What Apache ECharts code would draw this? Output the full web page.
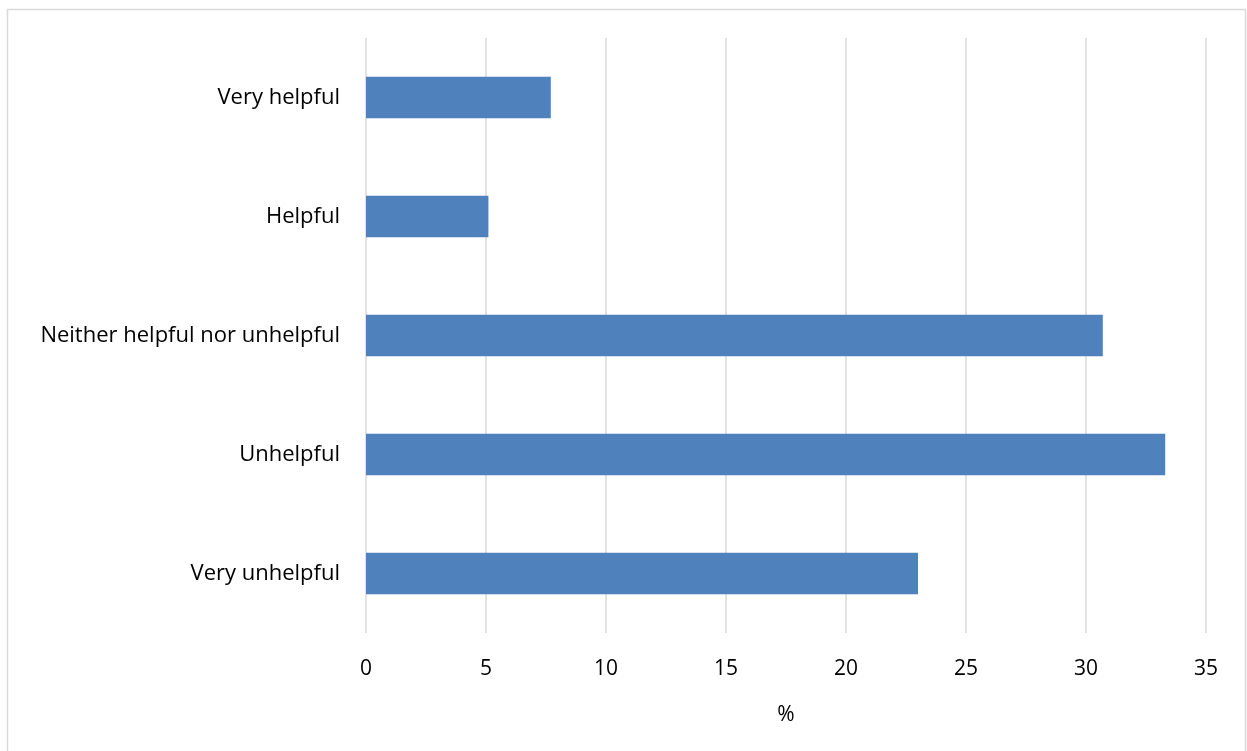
<!DOCTYPE html>
<html>
<head>
<meta charset="utf-8">
<script src="https://cdn.jsdelivr.net/npm/echarts@6/dist/echarts.min.js"></script>
<style>
html,body{margin:0;padding:0;background:#fff;}
#chart{width:1247px;height:751px;}
</style>
</head>
<body>
<div id="chart"></div>
<script>
const categories = ["Very unhelpful", "Unhelpful", "Neither helpful nor unhelpful", "Helpful", "Very helpful"];
const values = [23.0, 33.3, 30.7, 5.1, 7.7];
const xTicks = { min: 0, max: 35, interval: 5 };
const xAxisTitle = "%";

const chart = echarts.init(document.getElementById('chart'), null, { renderer: 'canvas' });
const font = '"Open Sans", "Noto Sans", sans-serif';
chart.setOption({
  animation: false,
  backgroundColor: '#ffffff',
  graphic: [{
    type: 'rect',
    shape: { x: 7.5, y: 9.5, width: 1238, height: 760 },
    style: { fill: 'none', stroke: '#d9d9d9', lineWidth: 1.5 }
  }],
  grid: { left: 366, right: 41, top: 38, bottom: 118, containLabel: false },
  xAxis: {
    type: 'value',
    min: xTicks.min, max: xTicks.max, interval: xTicks.interval,
    name: xAxisTitle,
    nameLocation: 'middle',
    nameGap: 72,
    nameTextStyle: { color: '#000', fontSize: 21, fontFamily: font },
    axisLine: { show: false },
    axisTick: { show: false },
    axisLabel: { color: '#000', fontSize: 21, fontFamily: font, margin: 26 },
    splitLine: { show: true, lineStyle: { color: '#d9d9d9', width: 1.5 } }
  },
  yAxis: {
    type: 'category',
    data: categories,
    axisLine: { show: false },
    axisTick: { show: false },
    axisLabel: { color: '#000', fontSize: 22, fontFamily: font, margin: 26, padding: [4, 0, 0, 0] },
    splitLine: { show: false }
  },
  series: [{
    type: 'bar',
    data: values,
    barWidth: '35%',
    itemStyle: { color: '#4f81bd' }
  }]
});
</script>
</body>
</html>
